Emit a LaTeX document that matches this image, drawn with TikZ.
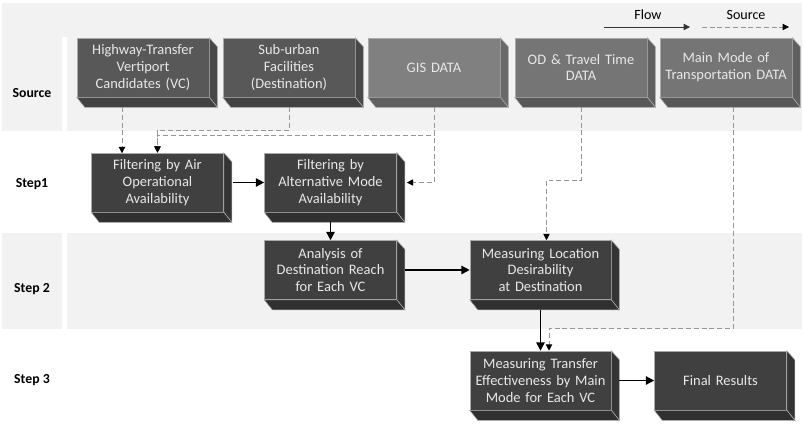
\documentclass[tikz,border=0pt]{standalone}
\usepackage{fontspec}
\setmainfont{Carlito}
\usetikzlibrary{arrows.meta, positioning, calc}
\definecolor{bandgray}{RGB}{242,242,242}
\definecolor{srcgray}{RGB}{88,88,88}
\definecolor{gisgray}{RGB}{128,128,128}
\definecolor{datagray}{RGB}{117,117,117}
\definecolor{stepgray}{RGB}{64,64,64}
\definecolor{edgegray}{RGB}{170,170,170}
\definecolor{boxtext}{RGB}{232,232,232}
\definecolor{linegray}{RGB}{150,150,150}
\tikzset{
  band/.style={fill=bandgray, draw=none},
  rowlabel/.style={font=\fontsize{9.8}{11.5}\selectfont\bfseries, text=black},
  srcbox/.style={rectangle, draw=edgegray, line width=0.4pt, fill=srcgray,
                 text width=3.3cm, inner xsep=0pt, align=center,
                 minimum height=1.475cm, text=boxtext,
                 font=\fontsize{10.3}{11.9}\selectfont},
  stepbox/.style={srcbox, fill=stepgray},
  widebox/.style={stepbox, text width=3.525cm},
  flow/.style={-{Triangle[length=6pt, width=6pt]}, line width=1.1pt, black},
  srcline/.style={-{Triangle[length=4.5pt, width=4.5pt, color=black]}, draw=linegray,
                  line width=0.7pt, dash pattern=on 3.5pt off 2pt},
}
% right and bottom faces of a box
\newcommand{\boxdepth}[2]{%
  \filldraw[fill=#2!82!black, draw=edgegray, line width=0.4pt]
    (#1.north east) -- ++(8,9) -- ([shift={(8,10)}]#1.south east)
    -- (#1.south east) -- cycle;
  \filldraw[fill=#2!75!black, draw=edgegray, line width=0.4pt]
    (#1.south west) -- ++(8,10) -- ([shift={(8,10)}]#1.south east)
    -- (#1.south east) -- cycle;}

\begin{document}
\begin{tikzpicture}[x=0.025cm, y=-0.025cm]
  \useasboundingbox (0,0) rectangle (805,435);

  % bands
  \fill[band] (2,3) rectangle (802,37);
  \fill[band] (2,37) rectangle (62,131);
  \fill[band] (67,37) rectangle (802,131);
  \fill[band] (2,233) rectangle (62,329);
  \fill[band] (67,233) rectangle (802,329);

  \node[rowlabel] (lsrc) at (32,93) {Source};
  \node[rowlabel] (lst1) at (32,184) {Step1};
  \node[rowlabel] (lst2) at (32,289) {Step 2};
  \node[rowlabel] (lst3) at (32,380) {Step 3};

  % legend
  \node[font=\fontsize{10}{11.5}\selectfont] (lflow) at (648,15) {Flow};
  \node[font=\fontsize{10}{11.5}\selectfont] (lsource) at (746,15) {Source};
  \coordinate (fa) at (604,27);
  \coordinate (fb) at (690,27);
  \coordinate (sa) at (702,27);
  \coordinate (sb) at (789,27);
  \draw[-{Triangle[length=4.5pt, width=4.5pt]}, line width=0.6pt, black!80] (fa) -- (fb);
  \draw[srcline, line width=0.6pt] (sa) -- (sb);

  % source row
  \node[srcbox] (hwy) at (143,67.5) {Highway-Transfer\\Vertiport\\Candidates (VC)};
  \node[srcbox] (sub) at (289,67.5) {Sub-urban\\Facilities\\(Destination)};
  \node[srcbox, fill=gisgray] (gis) at (434,67.5) {GIS DATA};
  \node[srcbox, fill=datagray] (od) at (581,67.5) {OD \& Travel Time\\DATA};
  \node[srcbox, fill=datagray] (mode) at (726,67.5) {Main Mode of\\Transportation DATA};

  % steps
  \node[stepbox] (air) at (157.5,182.5) {Filtering by Air\\Operational\\Availability};
  \node[stepbox] (alt) at (330.5,182.5) {Filtering by\\Alternative Mode\\Availability};
  \node[stepbox] (reach) at (330.5,270) {Analysis of\\Destination Reach\\for Each VC};
  \node[widebox] (desir) at (540.5,270) {Measuring Location\\Desirability\\at Destination};
  \node[widebox] (trans) at (540.5,380.5) {Measuring Transfer\\Effectiveness by Main\\Mode for Each VC};
  \node[stepbox] (final) at (720.5,380.5) {Final Results};

  \boxdepth{hwy}{srcgray}
  \boxdepth{sub}{srcgray}
  \boxdepth{gis}{gisgray}
  \boxdepth{od}{datagray}
  \boxdepth{mode}{datagray}
  \foreach \n in {air, alt, reach, desir, trans, final}
    {\boxdepth{\n}{stepgray}}

  % source links
  \draw[srcline] ([shift={(-21,10)}]hwy.south) -- ++(0,46);
  \draw[srcline] ([shift={(0,10)}]sub.south) -- ++(0,23) -| (air.north);
  \draw[srcline] ([shift={(0,10)}]gis.south) -- ++(0,28) -| (air.north);
  \draw[srcline] ([shift={(0,10)}]gis.south) |- ([shift={(10,0)}]alt.east);
  \draw[srcline] ([shift={(0,10)}]od.south) -- ++(0,73) -| ([shift={(6,0)}]desir.north);
  \draw[srcline] ([shift={(7,10)}]mode.south) -- ++(0,221) -| ([shift={(8.5,0)}]trans.north);

  % flow
  \draw[flow] ([shift={(9,0)}]air.east) -- (alt.west);
  \draw[flow] ([shift={(0,10)}]alt.south) -- (reach.north);
  \draw[flow] ([shift={(8,0)}]reach.east) -- (desir.west);
  \draw[flow] ([shift={(0,10)}]desir.south) -- (trans.north);
  \draw[flow] ([shift={(8,0)}]trans.east) -- (final.west);
\end{tikzpicture}
\end{document}
